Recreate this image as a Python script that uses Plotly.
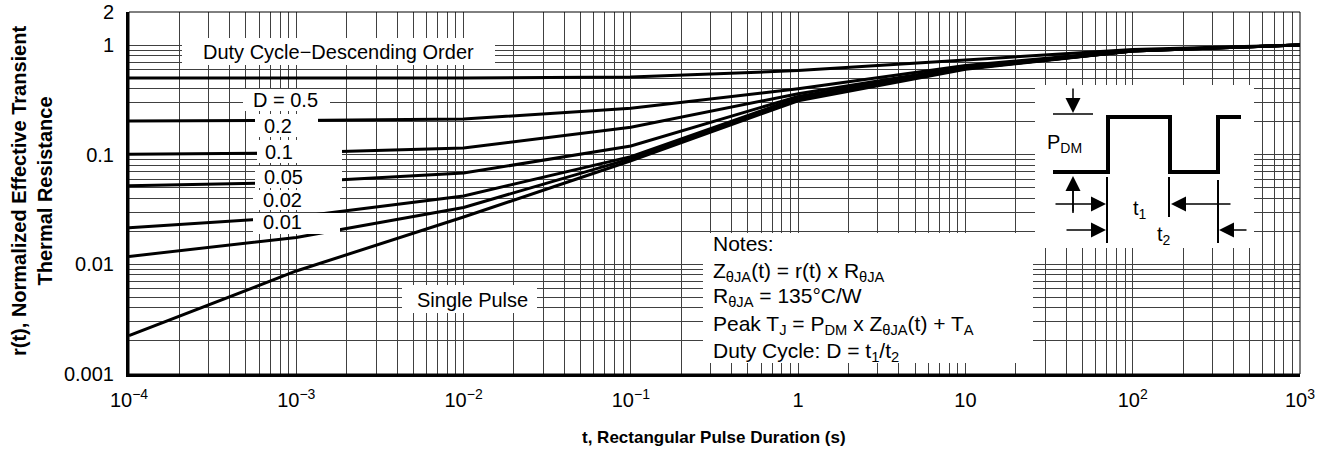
import math
import plotly.graph_objects as go

# ---------------- data ----------------
t_s = [1e-4, 1e-3, 1e-2, 1e-1, 1, 10, 100, 1000]
r_d050 = [0.50, 0.50, 0.50, 0.51, 0.585, 0.73, 0.91, 1.0]
r_d020 = [0.203, 0.205, 0.211, 0.265, 0.40, 0.65, 0.89, 1.0]
r_d010 = [0.101, 0.104, 0.115, 0.178, 0.36, 0.63, 0.89, 1.0]
r_d005 = [0.052, 0.056, 0.068, 0.12, 0.34, 0.62, 0.88, 1.0]
r_d002 = [0.0216, 0.027, 0.042, 0.096, 0.33, 0.61, 0.88, 1.0]
r_d001 = [0.0118, 0.0176, 0.033, 0.092, 0.32, 0.61, 0.88, 1.0]
r_single = [0.00224, 0.0087, 0.027, 0.088, 0.31, 0.60, 0.88, 1.0]

x_labels = {1e-4: "10<sup>−4</sup>", 1e-3: "10<sup>−3</sup>", 1e-2: "10<sup>−2</sup>",
            1e-1: "10<sup>−1</sup>", 1: "1", 10: "10", 100: "10<sup>2</sup>",
            1000: "10<sup>3</sup>"}
y_labels = {0.001: "0.001", 0.01: "0.01", 0.1: "0.1", 1: "1", 2: "2"}

# ---------------- geometry helpers (pixel -> paper) ----------------
W, H = 1320, 462
L, R, T, B = 129, 20, 12, 88
PW, PH = W - L - R, H - T - B


def px(x):
    return (x - L) / PW


def py(y):
    return (H - B - y) / PH


FONT = "Liberation Sans, Arial, Helvetica, sans-serif"

fig = go.Figure()
for vals in [r_d050, r_d020, r_d010, r_d005, r_d002, r_d001, r_single]:
    fig.add_trace(go.Scatter(x=t_s, y=vals, mode="lines",
                             line=dict(color="black", width=3),
                             showlegend=False, hoverinfo="skip"))

# tick values (every 1..9 per decade for the grid)
xt = []
for e in range(-4, 3):
    for m in range(1, 10):
        xt.append(round(m * 10 ** e, 10))
xt.append(1000)
xtext = [x_labels.get(v, "") for v in xt]

yt = []
for e in range(-3, 0):
    for m in range(1, 10):
        yt.append(round(m * 10 ** e, 10))
yt += [1, 2]
ytext = [y_labels.get(v, "") for v in yt]

GRID = "#404040"
fig.update_layout(
    width=W, height=H,
    margin=dict(l=L, r=R, t=T, b=B, pad=0, autoexpand=False),
    paper_bgcolor="white", plot_bgcolor="white",
    font=dict(family=FONT, color="black", size=20),
    xaxis=dict(type="log", range=[-4, 3], tickmode="array", tickvals=xt, ticktext=xtext,
               showgrid=True, gridcolor=GRID, gridwidth=1, zeroline=False,
               showline=True, linecolor="black", linewidth=3, automargin=False,
               ticks="outside", ticklen=6, tickcolor="rgba(0,0,0,0)",
               tickfont=dict(size=20, family=FONT)),
    yaxis=dict(type="log", range=[-3, math.log10(2)], tickmode="array", tickvals=yt,
               ticktext=ytext, showgrid=True, gridcolor=GRID, gridwidth=1, zeroline=False,
               showline=True, linecolor="black", linewidth=3, automargin=False,
               ticks="outside", ticklen=8, tickcolor="rgba(0,0,0,0)",
               tickfont=dict(size=20, family=FONT)),
)

shapes = []


def rect(x0, y0, x1, y1):
    shapes.append(dict(type="rect", xref="paper", yref="paper", layer="above",
                       x0=px(x0), x1=px(x1), y0=py(y1), y1=py(y0),
                       fillcolor="white", line=dict(width=0)))


def seg(x0, y0, x1, y1, w=2):
    shapes.append(dict(type="line", xref="paper", yref="paper", layer="above",
                       x0=px(x0), x1=px(x1), y0=py(y0), y1=py(y1),
                       line=dict(color="black", width=w)))


# frame (thin top/right border)
shapes.append(dict(type="rect", xref="paper", yref="paper", layer="above",
                   x0=0, x1=1, y0=0, y1=1, line=dict(color="black", width=1)))

# label boxes
rect(182, 38, 495, 65)     # Duty cycle
rect(243, 89, 330, 111)    # D = 0.5
rect(255, 114, 318, 137)   # 0.2
rect(257, 140, 342, 163)   # 0.1
rect(255, 166, 342, 188)   # 0.05
rect(253, 190, 340, 210)   # 0.02
rect(253, 213, 340, 234)   # 0.01
rect(402, 285, 537, 313)   # Single pulse
rect(703, 233, 1033, 363)  # notes
rect(1035, 85, 1254, 248)  # inset

# pulse waveform
pts = [(1053, 172), (1108, 172), (1108, 117), (1170, 117), (1170, 172),
       (1218, 172), (1218, 117), (1241, 117)]
path = "M " + " L ".join(f"{px(x)},{py(y)}" for x, y in pts)
shapes.append(dict(type="path", xref="paper", yref="paper", layer="above", path=path,
                   line=dict(color="black", width=4)))
seg(1053, 114, 1093, 114, 1.5)
seg(1073, 178, 1073, 213, 1.5)
seg(1107, 177, 1107, 243, 2)
seg(1169, 177, 1169, 217, 2)
seg(1218, 180, 1218, 243, 2)
fig.update_layout(shapes=shapes)

ann = []


def text(s, x, y, size=20, xanchor="center", yanchor="middle", **kw):
    ann.append(dict(text=s, x=px(x), y=py(y), xref="paper", yref="paper", showarrow=False,
                    font=dict(size=size, color="black", family=FONT),
                    xanchor=xanchor, yanchor=yanchor, **kw))


def arrow(xt_, yt_, ax, ay):
    ann.append(dict(text="", x=px(xt_), y=py(yt_), xref="paper", yref="paper",
                    showarrow=True, ax=ax, ay=ay, arrowhead=2, arrowsize=2,
                    arrowwidth=1.5, arrowcolor="black"))


text("Duty Cycle−Descending Order", 338, 52)
text("D = 0.5", 285, 100)
text("0.2", 278, 126)
text("0.1", 279, 152)
text("0.05", 283, 177)
text("0.02", 282, 200)
text("0.01", 282, 222)
text("Single Pulse", 472, 300)

notes = ["Notes:",
         "Z<sub>θJA</sub>(t) = r(t) x R<sub>θJA</sub>",
         "R<sub>θJA</sub> = 135°C/W",
         "Peak T<sub>J</sub> = P<sub>DM</sub> x Z<sub>θJA</sub>(t) + T<sub>A</sub>",
         "Duty Cycle: D = t<sub>1</sub>/t<sub>2</sub>"]
note_y = [244, 272, 297, 325, 352]
for s, yy in zip(notes, note_y):
    text(s, 711, yy, size=21, xanchor="left")

text("P<sub>DM</sub>", 1045, 144, xanchor="left")
text("t<sub>1</sub>", 1140, 209)
text("t<sub>2</sub>", 1164, 235)

arrow(1073, 113, 0, -26)
arrow(1073, 176, 0, 37)
arrow(1106, 204, -52, 0)
arrow(1171, 204, 61, 0)
arrow(1106, 230, -41, 0)
arrow(1219, 230, 29, 0)

# axis titles
ann.append(dict(text="<b>r(t), Normalized Effective Transient<br>Thermal Resistance</b>",
                x=px(32), y=py(191), xref="paper", yref="paper", showarrow=False,
                textangle=-90, xanchor="center", yanchor="middle",
                font=dict(size=20, color="black", family=FONT)))
ann.append(dict(text="<b>t, Rectangular Pulse Duration (s)</b>",
                x=px(714), y=py(437), xref="paper", yref="paper", showarrow=False,
                xanchor="center", yanchor="middle",
                font=dict(size=17, color="black", family=FONT)))

fig.update_layout(annotations=ann)
fig.write_html("out.html", config={"displayModeBar": False},
               post_script="document.body.style.margin='0';document.body.style.padding='0';")
